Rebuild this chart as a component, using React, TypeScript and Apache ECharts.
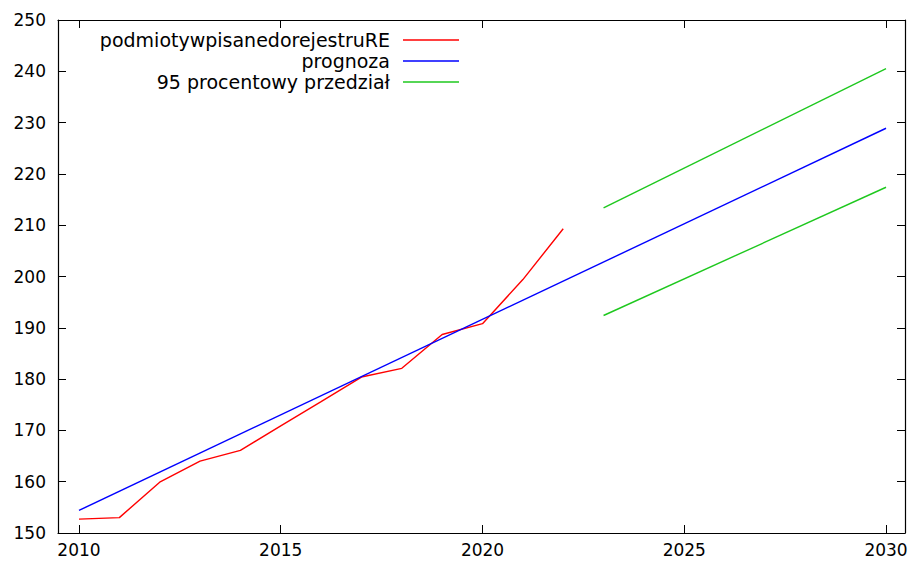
import React, { useEffect, useRef } from "react";
import * as echarts from "echarts";

const years = [2010, 2011, 2012, 2013, 2014, 2015, 2016, 2017, 2018, 2019, 2020, 2021, 2022];
const registered = [152.7, 153.0, 159.9, 164.0, 166.1, 170.9, 175.6, 180.4, 182.1, 188.7, 190.8, 199.4, 209.3];
const forecastYears = [2010, 2030];
const forecast = [154.4, 228.9];
const intervalYears = [2023, 2030];
const upper = [213.4, 240.5];
const lower = [192.4, 217.4];
const xTicks = [2010, 2015, 2020, 2025, 2030];

const names = ["podmiotywpisanedorejestruRE", "prognoza", "95 procentowy przedział"];
const RED = "#ff0000";
const BLUE = "#0000ff";
const GREEN = "#1ec81e";
const FONT = "DejaVu Sans";

const zip = (xs: number[], ys: number[]) => xs.map((x, i) => [x, ys[i]]);

export default function App() {
  const ref = useRef<HTMLDivElement>(null);
  useEffect(() => {
    if (!ref.current) return;
    const chart = echarts.init(ref.current, undefined, { renderer: "svg" });
    const axisLine = { show: true, lineStyle: { color: "#000", width: 1.2 } };
    const tick = { show: true, inside: true, length: 8, lineStyle: { color: "#000", width: 1 } };
    const lineSeries = (name: string, data: number[][], color: string) => ({
      type: "line",
      name,
      data,
      symbol: "none",
      showSymbol: false,
      lineStyle: { color, width: 1.4 },
      itemStyle: { color },
      xAxisIndex: 0,
      yAxisIndex: 0,
      z: 3,
    });
    const legendColors = [RED, BLUE, GREEN];
    const legendY = [40, 61, 82];
    const legendGraphics: any[] = [];
    names.forEach((n, i) => {
      legendGraphics.push({
        type: "text",
        x: 390,
        y: legendY[i],
        style: {
          text: n,
          fill: "#000",
          font: `19px "${FONT}"`,
          align: "right",
          verticalAlign: "middle",
        },
      });
      legendGraphics.push({
        type: "line",
        shape: { x1: 403, y1: legendY[i], x2: 459, y2: legendY[i] },
        style: { stroke: legendColors[i], lineWidth: 1.4 },
      });
    });
    chart.setOption({
      animation: false,
      backgroundColor: "#fff",
      grid: { left: 58, right: 9, top: 20, bottom: 30 },
      xAxis: [
        {
          type: "value",
          min: 2009.48,
          max: 2030.47,
          position: "bottom",
          axisLine,
          axisTick: { ...tick, customValues: xTicks },
          axisLabel: {
            customValues: xTicks,
            formatter: (v: number) => String(v),
            color: "#000",
            fontSize: 17,
            fontFamily: FONT,
            margin: 8,
          },
          splitLine: { show: false },
        },
        {
          type: "value",
          min: 2009.48,
          max: 2030.47,
          position: "top",
          axisLine,
          axisTick: { ...tick, customValues: xTicks },
          axisLabel: { show: false },
          splitLine: { show: false },
        },
      ],
      yAxis: [
        {
          type: "value",
          min: 150,
          max: 250,
          interval: 10,
          position: "left",
          axisLine,
          axisTick: tick,
          axisLabel: { color: "#000", fontSize: 17, fontFamily: FONT, margin: 12 },
          splitLine: { show: false },
        },
        {
          type: "value",
          min: 150,
          max: 250,
          interval: 10,
          position: "right",
          axisLine,
          axisTick: tick,
          axisLabel: { show: false },
          splitLine: { show: false },
        },
      ],
      graphic: legendGraphics,
      series: [
        lineSeries(names[0], zip(years, registered), RED),
        lineSeries(names[1], zip(forecastYears, forecast), BLUE),
        lineSeries(names[2], zip(intervalYears, upper), GREEN),
        lineSeries(names[2], zip(intervalYears, lower), GREEN),
      ],
    });
    return () => chart.dispose();
  }, []);
  return <div ref={ref} style={{ width: 914, height: 563, position: "absolute", left: 0, top: 0 }} />;
}
